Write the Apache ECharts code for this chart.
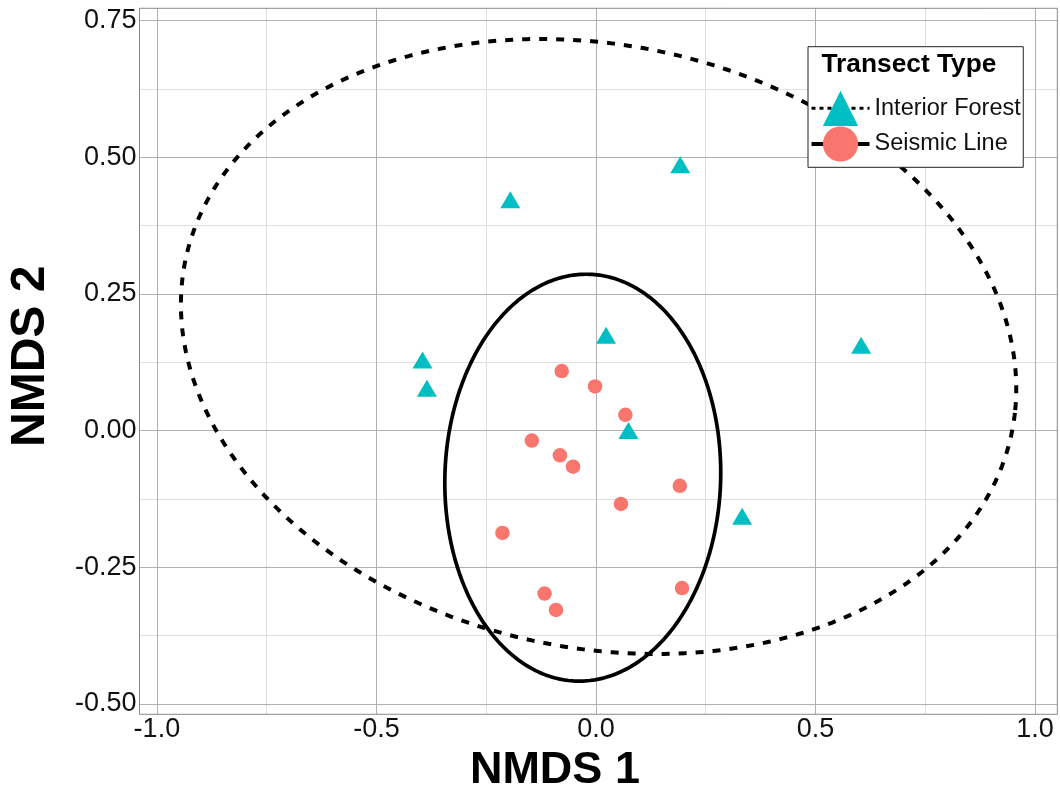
<!DOCTYPE html>
<html>
<head>
<meta charset="utf-8">
<script src="https://cdn.jsdelivr.net/npm/echarts@6/dist/echarts.min.js"></script>
<style>
  html, body { margin: 0; padding: 0; background: #ffffff; }
  #chart { width: 1060px; height: 799px; }
</style>
</head>
<body>
<div id="chart"></div>
<script>
// NMDS site scores, one pair of arrays per transect type
const groups = ['Interior Forest', 'Seismic Line'];
const interiorForestNMDS1 = [0.192, -0.195, 0.023, 0.604, -0.395, -0.385, 0.074, 0.333];
const interiorForestNMDS2 = [0.481, 0.417, 0.169, 0.151, 0.124, 0.072, -0.005, -0.162];
const seismicLineNMDS1 = [-0.078, -0.002, 0.067, -0.146, -0.082, -0.052, 0.191, 0.057, -0.213, 0.196, -0.117, -0.091];
const seismicLineNMDS2 = [0.109, 0.081, 0.029, -0.018, -0.045, -0.066, -0.101, -0.134, -0.187, -0.288, -0.298, -0.328];

// Group ellipses: [centre NMDS1, centre NMDS2, semi-axis a, semi-axis b, rotation of a (deg)]
const interiorForestEllipse = [0.006, 0.154, 0.956, 0.5545, -7.0];
const seismicLineEllipse = [-0.030, -0.086, 0.3725, 0.3139, 85.8];

// Axis ranges and labelled breaks
const xRange = [-1.0396, 1.0508];
const yRange = [-0.5189, 0.7727];
const xTicks = [-1.0, -0.5, 0.0, 0.5, 1.0];
const yTicks = [-0.50, -0.25, 0.00, 0.25, 0.50, 0.75];

const FONT = 'Liberation Sans, Arial, Helvetica, sans-serif';
const COLORS = { forest: '#00BFC4', seismic: '#F8766D' };
const GRID_MAJOR = '#b0b0b0';
const GRID_MINOR = '#dfdfdf';

const zip = (xs, ys) => xs.map((x, i) => [x, ys[i]]);
const isBreak = (v, breaks) => breaks.some(b => Math.abs(b - v) < 1e-6);

// Outline of an ellipse traced through the cartesian scales
function ellipseRenderer(style) {
  return function (params, api) {
    const cx = api.value(0), cy = api.value(1);
    const a = api.value(2), b = api.value(3);
    const th = api.value(4) * Math.PI / 180;
    const pts = [];
    for (let i = 0; i <= 360; i++) {
      const t = i * Math.PI / 180;
      const x = cx + a * Math.cos(t) * Math.cos(th) - b * Math.sin(t) * Math.sin(th);
      const y = cy + a * Math.cos(t) * Math.sin(th) + b * Math.sin(t) * Math.cos(th);
      pts.push(api.coord([x, y]));
    }
    return {
      type: 'polyline',
      shape: { points: pts },
      style: Object.assign({ fill: null, lineCap: 'butt', lineJoin: 'round' }, style),
      silent: true
    };
  };
}

const hidden = { show: false };

const chart = echarts.init(document.getElementById('chart'), null, { renderer: 'canvas' });

chart.setOption({
  animation: false,
  backgroundColor: '#ffffff',
  textStyle: { fontFamily: FONT },
  title: {
    text: 'Transect Type',
    left: 821.5,
    top: 52,
    padding: 0,
    textStyle: { fontSize: 26.3, fontWeight: 'bold', color: '#000', fontFamily: FONT }
  },
  legend: {
    orient: 'vertical',
    left: 808,
    top: 46.7,
    padding: [44, 2.5, 5.7, 1.5],
    itemWidth: 58,
    itemHeight: 44,
    itemGap: 0.5,
    backgroundColor: '#ffffff',
    borderColor: '#222222',
    borderWidth: 1,
    borderRadius: 0,
    selectedMode: false,
    textStyle: { fontSize: 23.5, color: '#111', fontFamily: FONT },
    data: [
      { name: groups[0], lineStyle: { color: '#000', width: 3, type: [4, 4], opacity: 1 } },
      { name: groups[1], lineStyle: { color: '#000', width: 4, type: 'solid', opacity: 1 } }
    ]
  },
  grid: {
    left: 139.5, right: 2.7, top: 8.3, bottom: 84.7,
    show: true,
    borderColor: '#8a8a8a',
    borderWidth: 1,
    backgroundColor: 'transparent',
    containLabel: false,
    outerBoundsMode: 'none',
    z: 3
  },
  xAxis: [
    {
      type: 'value', gridIndex: 0, z: 1,
      min: xRange[0], max: xRange[1],
      minInterval: 0.5, maxInterval: 0.5,
      axisLine: hidden, axisTick: hidden,
      axisLabel: {
        fontSize: 27, color: '#111', fontFamily: FONT, margin: 2,
        formatter: v => isBreak(v, xTicks) ? v.toFixed(1) : ''
      },
      splitLine: { show: true, showMinLine: false, showMaxLine: false, lineStyle: { color: GRID_MAJOR, width: 1 } },
      name: 'NMDS 1',
      nameLocation: 'middle',
      nameGap: 34,
      nameTextStyle: { fontSize: 45, fontWeight: 'bold', color: '#000', fontFamily: FONT, padding: [0, 87, 0, 0] }
    },
    {
      type: 'value', gridIndex: 0, z: 0,
      min: xRange[0], max: xRange[1],
      minInterval: 0.25, maxInterval: 0.25,
      axisLine: hidden, axisTick: hidden, axisLabel: hidden,
      splitLine: { show: true, showMinLine: false, showMaxLine: false, lineStyle: { color: GRID_MINOR, width: 1 } }
    }
  ],
  yAxis: [
    {
      type: 'value', gridIndex: 0, z: 1, position: 'left',
      min: yRange[0], max: yRange[1],
      minInterval: 0.25, maxInterval: 0.25,
      axisLine: hidden, axisTick: hidden,
      axisLabel: {
        fontSize: 27, color: '#111', fontFamily: FONT, margin: 3,
        formatter: v => isBreak(v, yTicks) ? v.toFixed(2) : ''
      },
      splitLine: { show: true, showMinLine: false, showMaxLine: false, lineStyle: { color: GRID_MAJOR, width: 1 } },
      name: 'NMDS 2',
      nameLocation: 'middle',
      nameGap: 85,
      nameRotate: 90,
      nameTextStyle: { fontSize: 48, fontWeight: 'bold', color: '#000', fontFamily: FONT, padding: [0, 0, 0, 10] }
    },
    {
      type: 'value', gridIndex: 0, z: 0, position: 'left',
      min: yRange[0], max: yRange[1],
      minInterval: 0.125, maxInterval: 0.125,
      axisLine: hidden, axisTick: hidden, axisLabel: hidden,
      splitLine: { show: true, showMinLine: false, showMaxLine: false, lineStyle: { color: GRID_MINOR, width: 1 } }
    }
  ],
  series: [
    {
      name: groups[0] + ' ellipse',
      type: 'custom',
      xAxisIndex: 0, yAxisIndex: 0,
      data: [interiorForestEllipse],
      renderItem: ellipseRenderer({ stroke: '#000', lineWidth: 4, lineDash: [8, 9] }),
      silent: true,
      z: 3
    },
    {
      name: groups[1] + ' ellipse',
      type: 'custom',
      xAxisIndex: 0, yAxisIndex: 0,
      data: [seismicLineEllipse],
      renderItem: ellipseRenderer({ stroke: '#000', lineWidth: 3.7 }),
      silent: true,
      z: 3
    },
    {
      name: groups[0],
      type: 'line',
      xAxisIndex: 0, yAxisIndex: 0,
      data: zip(interiorForestNMDS1, interiorForestNMDS2),
      symbol: 'triangle',
      symbolSize: [20, 17],
      symbolOffset: [0, -3],
      showSymbol: true,
      showAllSymbol: true,
      itemStyle: { color: COLORS.forest, borderWidth: 0, opacity: 1 },
      lineStyle: { opacity: 0, width: 1 },
      emphasis: { disabled: true },
      silent: true,
      z: 4
    },
    {
      name: groups[1],
      type: 'line',
      xAxisIndex: 0, yAxisIndex: 0,
      data: zip(seismicLineNMDS1, seismicLineNMDS2),
      symbol: 'circle',
      symbolSize: 14.5,
      showSymbol: true,
      showAllSymbol: true,
      itemStyle: { color: COLORS.seismic, borderWidth: 0, opacity: 1 },
      lineStyle: { opacity: 0, width: 1 },
      emphasis: { disabled: true },
      silent: true,
      z: 4
    }
  ]
});
</script>
</body>
</html>
